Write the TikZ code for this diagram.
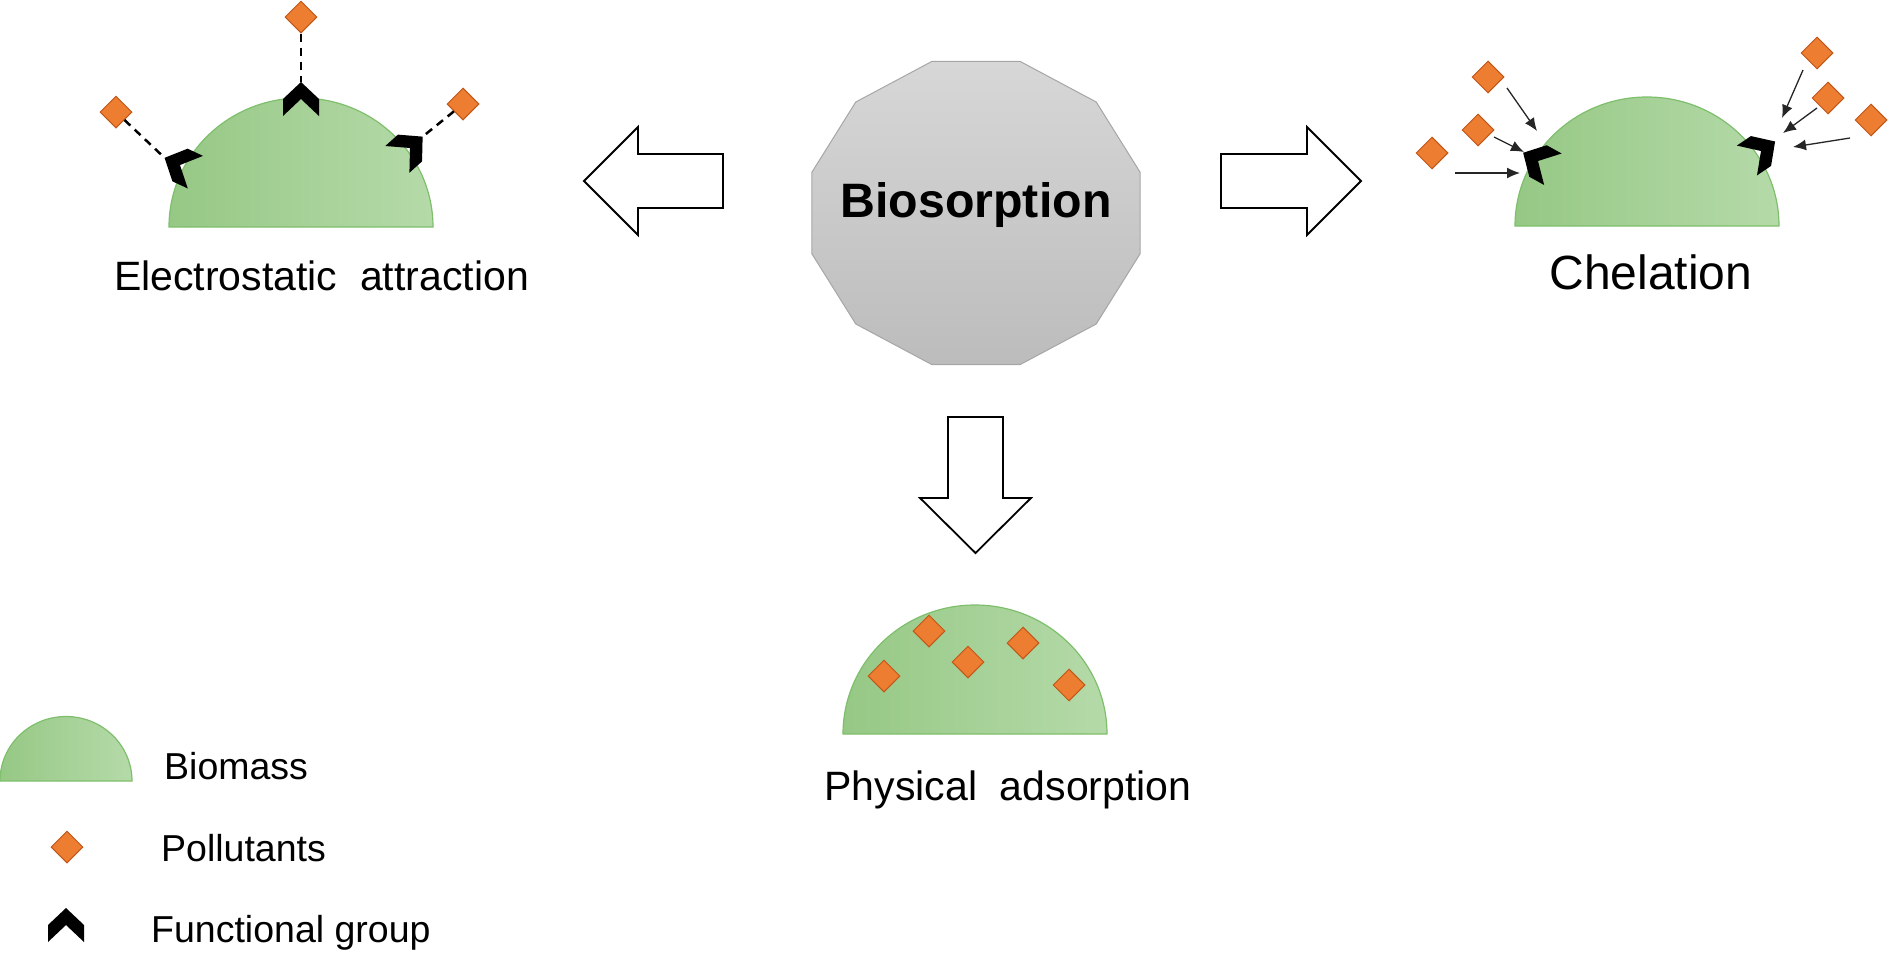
\documentclass[tikz,border=0pt]{standalone}
\usepackage{fontspec}
\setmainfont{Liberation Sans}
\usepackage{xcolor}
\usetikzlibrary{positioning,shapes.geometric,arrows.meta}

\definecolor{massL}{HTML}{96C885}
\definecolor{massR}{HTML}{B5DAA9}
\definecolor{massD}{HTML}{7EBF6C}
\definecolor{polF}{HTML}{ED7D31}
\definecolor{polD}{HTML}{C0581A}
\definecolor{bioT}{HTML}{D7D7D7}
\definecolor{bioB}{HTML}{BCBCBC}
\definecolor{bioD}{HTML}{A6A6A6}

\tikzset{
  pollutant/.style={diamond,draw=polD,fill=polF,line width=1pt,minimum size=32pt,inner sep=0pt},
  bigarrow/.style={draw=black,fill=white,line width=1.8pt,line join=miter},
  bond/.style={line width=2.5pt,dash pattern=on 8pt off 6pt},
  pull/.style={-{Latex[length=13pt,width=11pt]},line width=1.3pt,draw=black!85},
  mech/.style={anchor=base,inner sep=0pt,font=\fontsize{41}{49}\selectfont},
  legtext/.style={anchor=base west,inner sep=0pt,font=\fontsize{37.5}{45}\selectfont},
  fgroup/.pic={
    \fill[black] (0pt,17pt) -- (18pt,0pt) -- (18pt,-17pt) -- (0pt,0pt) -- (-18pt,-17pt) -- (-18pt,0pt) -- cycle;
    \coordinate (-apex) at (0pt,17pt);
  },
  biomass/.pic={
    \shade[left color=massL,right color=massR,draw=massD,line width=1.2pt] (-132pt,0pt) arc[start angle=180,end angle=0,x radius=132pt,y radius=129pt] -- cycle;
  }
}

\begin{document}
\begin{tikzpicture}[x=1pt,y=1pt]
\useasboundingbox (0,0) rectangle (1888,-954);
\shade[top color=bioT,bottom color=bioB,draw=bioD,line width=1pt,shift={(976,-213)}] (15:170 and 157) \foreach \a in {45,75,...,345} {-- (\a:170 and 157)} -- cycle;
\node[anchor=base,inner sep=0pt,font=\bfseries\fontsize{48.3}{58}\selectfont] (bio) at (976,-217) {Biosorption};
\draw[bigarrow] (723,-154) -- (638,-154) -- (638,-127) -- (584,-181) -- (638,-235) -- (638,-208) -- (723,-208) -- cycle;
\draw[bigarrow] (1221,-154) -- (1307,-154) -- (1307,-127) -- (1361,-181) -- (1307,-235) -- (1307,-208) -- (1221,-208) -- cycle;
\draw[bigarrow] (948,-417) -- (1003,-417) -- (1003,-498) -- (1031,-498) -- (975.5,-553) -- (920,-498) -- (948,-498) -- cycle;
\pic (massEl) at (301,-227) {biomass};
\pic[rotate=0] (fgT) at (301,-99) {fgroup};
\pic[rotate=65] (fgL) at (180,-165) {fgroup};
\pic[rotate=-48] (fgR) at (410,-148) {fgroup};
\node[pollutant] (e1) at (116,-112) {};
\node[pollutant] (e2) at (301,-17) {};
\node[pollutant] (e3) at (463,-104) {};
\draw[bond] (e1) -- (fgL-apex);
\draw[bond] (e2) -- (fgT-apex);
\draw[bond] (e3) -- (fgR-apex);
\node[mech] (elec) at (321.5,-290) {Electrostatic\ \ attraction};
\pic (massCh) at (1647,-226) {biomass};
\pic[rotate=61] (fgA) at (1538,-161) {fgroup};
\pic[rotate=-56] (fgB) at (1761,-151) {fgroup};
\node[pollutant] (c1) at (1488,-77) {};
\node[pollutant] (c2) at (1478,-130) {};
\node[pollutant] (c3) at (1432,-153) {};
\node[pollutant] (c4) at (1817,-53) {};
\node[pollutant] (c5) at (1828,-98) {};
\node[pollutant] (c6) at (1871,-120) {};
\coordinate (t1) at (1507,-88);
\coordinate (h1) at (1537,-131);
\coordinate (t2) at (1494,-137);
\coordinate (h2) at (1524,-152);
\coordinate (t3) at (1455,-173);
\coordinate (h3) at (1520,-173);
\coordinate (t4) at (1803,-70);
\coordinate (h4) at (1782,-118);
\coordinate (t5) at (1817,-108);
\coordinate (h5) at (1783,-133);
\coordinate (t6) at (1850,-138);
\coordinate (h6) at (1793,-147);
\foreach \i in {1,...,6} \draw[pull] (t\i) -- (h\i);
\node[mech,font=\fontsize{48}{58}\selectfont] (chel) at (1651,-289) {Chelation};
\pic (massPh) at (975,-734) {biomass};
\node[pollutant] (p1) at (884,-676) {};
\node[pollutant] (p2) at (929,-631) {};
\node[pollutant] (p3) at (968,-662) {};
\node[pollutant] (p4) at (1023,-643) {};
\node[pollutant] (p5) at (1069,-685) {};
\node[mech] (phys) at (1008,-800) {Physical\ \ adsorption};
\pic[scale=0.5] (massLg) at (66,-781) {biomass};
\node[pollutant] (lp) at (67,-847) {};
\pic (fgLg) at (66,-925) {fgroup};
\node[legtext] (lgmass) at (164,-779) {Biomass};
\node[legtext] (lgpol) at (161,-861) {Pollutants};
\node[legtext] (lgfg) at (151,-942) {Functional group};
\end{tikzpicture}
\end{document}
